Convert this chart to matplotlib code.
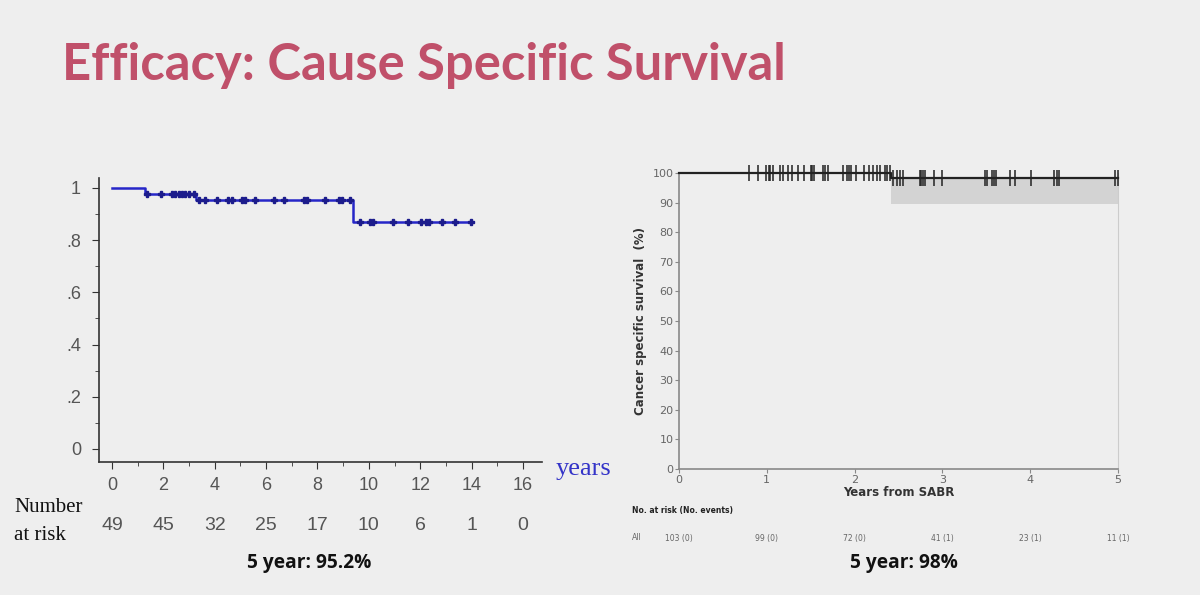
import matplotlib
matplotlib.use('Agg')
import matplotlib.pyplot as plt
import matplotlib.transforms as mtransforms
import numpy as np

# left panel: Kaplan-Meier steps (years, survival proportion)
left_step_t = [0, 1.30, 3.27, 9.40, 14.05]
left_step_s = [1.0, 0.977, 0.952, 0.868, 0.868]
left_censor_t = [1.37, 1.89, 2.34, 2.47, 2.60, 2.73, 2.86, 2.99, 3.18,
                 3.38, 3.64, 4.09, 4.52, 4.67, 5.06, 5.19, 5.58, 6.29, 6.68,
                 7.46, 7.58, 8.30, 8.84, 8.97, 9.27,
                 9.66, 10.05, 10.17, 10.95, 11.53, 12.03, 12.21, 12.34,
                 12.83, 13.35, 13.99]
left_risk_years = [0, 2, 4, 6, 8, 10, 12, 14, 16]
left_risk = [49, 45, 32, 25, 17, 10, 6, 1, 0]

# right panel: survival in %, with confidence band after the event
right_step_t = [0, 2.42, 5.0]
right_step_s = [100, 98.3, 98.3]
right_ci_t = [2.42, 5.0]
right_ci_low = [89.5, 89.5]
right_ci_high = [98.3, 98.3]
right_censor_t = [0.80, 0.90, 0.99, 1.02, 1.04, 1.07, 1.15, 1.18, 1.24, 1.29,
                  1.35, 1.42, 1.50, 1.52, 1.54, 1.64, 1.66, 1.70, 1.87, 1.91,
                  1.94, 1.96, 2.02, 2.11, 2.16, 2.21, 2.25, 2.29, 2.35, 2.37,
                  2.40,
                  2.44, 2.48, 2.52, 2.55, 2.74, 2.76, 2.78, 2.80, 2.90, 2.99,
                  3.49, 3.51, 3.56, 3.59, 3.61, 3.77, 3.83, 4.01, 4.27, 4.30,
                  4.33, 4.97, 5.00]
right_risk_years = [0, 1, 2, 3, 4, 5]
right_risk = ["103 (0)", "99 (0)", "72 (0)", "41 (1)", "23 (1)", "11 (1)"]


def surv_at(t, step_t, step_s):
    idx = np.searchsorted(step_t, t, side='right') - 1
    return np.asarray(step_s)[idx]


W, H = 1200, 595
BG = '#eeeeee'
fig = plt.figure(figsize=(W / 100, H / 100), dpi=100, facecolor=BG)


def px_axes(x0, y0, x1, y1):
    # pixel box (left, top, right, bottom) -> figure axes
    return fig.add_axes([x0 / W, 1 - y1 / H, (x1 - x0) / W, (y1 - y0) / H])


fig.text(62 / W, 1 - 80 / H, 'Efficacy: Cause Specific Survival',
         family='Lato', weight='bold', fontsize=36.5, color='#c0506a',
         va='baseline', ha='left')

sans = 'Liberation Sans'

# ---- left chart ----
ax = px_axes(99, 178, 542, 462)
ax.set_facecolor('none')
blue = '#2626c8'
ax.step(left_step_t, left_step_s, where='post', color=blue, lw=1.8)
cs = surv_at(left_censor_t, left_step_t, left_step_s)
ax.plot(left_censor_t, cs, ls='none', marker='P', ms=5, color='#1c1c8c',
        mec='#1c1c8c')
ax.set_xlim(-0.506, 16.74)
ax.set_ylim(-0.05, 1.038)
for s in ['top', 'right']:
    ax.spines[s].set_visible(False)
for s in ['left', 'bottom']:
    ax.spines[s].set_color('#333333')
    ax.spines[s].set_linewidth(1.2)
ax.set_xticks(np.arange(0, 17, 2))
ax.set_xticks(np.arange(0, 17, 1), minor=True)
ax.set_yticks([0, 0.2, 0.4, 0.6, 0.8, 1.0])
ax.set_yticklabels(['0', '.2', '.4', '.6', '.8', '1'])
ax.set_yticks(np.arange(0, 1.01, 0.1), minor=True)
ax.tick_params(axis='both', which='both', color='#333333', direction='out')
ax.tick_params(axis='x', which='major', length=5, pad=5.5, labelsize=13,
               labelcolor='#555555')
ax.tick_params(axis='x', which='minor', length=3)
ax.tick_params(axis='y', which='major', length=5, pad=8, labelsize=13,
               labelcolor='#555555')
ax.tick_params(axis='y', which='minor', length=3)
for lab in ax.get_xticklabels() + ax.get_yticklabels():
    lab.set_family(sans)

fig.text(556 / W, 1 - 469 / H, 'years', family='Liberation Serif',
         fontsize=19, color='#3434c8', va='center', ha='left')
fig.text(14 / W, 1 - 508 / H, 'Number', family='Liberation Serif',
         fontsize=15, color='#111111', va='center', ha='left')
fig.text(14 / W, 1 - 536 / H, 'at risk', family='Liberation Serif',
         fontsize=15, color='#111111', va='center', ha='left')
trL = mtransforms.blended_transform_factory(ax.transData, fig.transFigure)
for yr, n in zip(left_risk_years, left_risk):
    fig.text(yr, 1 - 526 / H, str(n), transform=trL, family=sans,
             fontsize=14, color='#555555', ha='center', va='center')
fig.text(309 / W, 1 - 563 / H, '5 year: 95.2%', family='Open Sans',
         weight='bold', fontsize=13.8, color='#111111', ha='center',
         va='center')

# ---- right chart ----
ax2 = px_axes(679, 173, 1118, 469)
ax2.set_facecolor('none')
ax2.fill_between(right_ci_t, right_ci_low, right_ci_high, color='#d3d3d3',
                 lw=0, zorder=1)
ax2.step(right_step_t, right_step_s, where='post', color='#222222', lw=1.6,
         zorder=3, clip_on=False)
rs = surv_at(right_censor_t, right_step_t, right_step_s)
ax2.plot(right_censor_t, rs, ls='none', marker='|', ms=11, mew=1.1,
         color='#222222', zorder=4, clip_on=False)
ax2.set_xlim(0, 5)
ax2.set_ylim(0, 100)
ax2.spines['top'].set_visible(False)
ax2.spines['right'].set_color('#cccccc')
for s in ['left', 'bottom']:
    ax2.spines[s].set_color('#888888')
    ax2.spines[s].set_linewidth(1.2)
ax2.set_xticks(right_risk_years)
ax2.set_yticks(np.arange(0, 101, 10))
ax2.tick_params(axis='both', length=3, color='#888888', labelsize=8,
                labelcolor='#666666', pad=1)
ax2.set_xlabel('Years from SABR', fontsize=8.5, weight='bold',
               color='#333333', labelpad=1)
ax2.set_ylabel('Cancer specific survival  (%)', fontsize=8.5, weight='bold',
               color='#333333', labelpad=4)

fig.text(632 / W, 1 - 511 / H, 'No. at risk (No. events)', fontsize=5.5,
         weight='bold', color='#222222', ha='left', va='center')
fig.text(632 / W, 1 - 538 / H, 'All', fontsize=5.5, color='#666666',
         ha='left', va='center')
trR = mtransforms.blended_transform_factory(ax2.transData, fig.transFigure)
for yr, lab in zip(right_risk_years, right_risk):
    fig.text(yr, 1 - 538 / H, lab, transform=trR, fontsize=5.5,
             color='#666666', ha='center', va='center')
fig.text(904 / W, 1 - 563 / H, '5 year: 98%', family='Open Sans',
         weight='bold', fontsize=13.8, color='#111111', ha='center',
         va='center')

fig.savefig('out.png', dpi=100, facecolor=BG)
